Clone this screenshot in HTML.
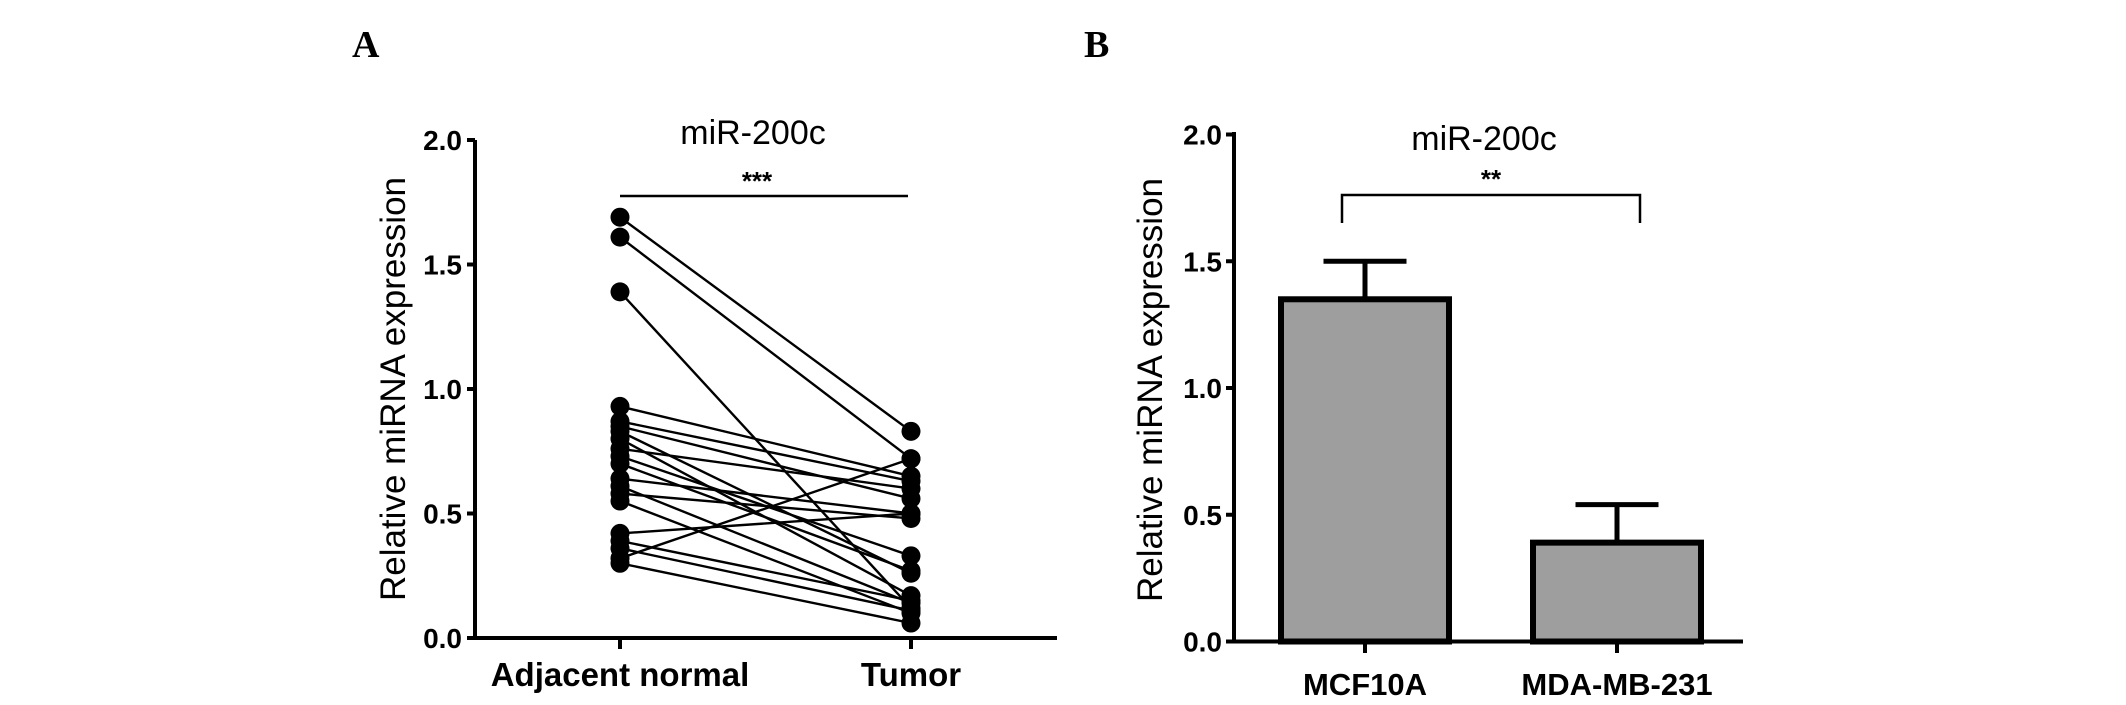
<!DOCTYPE html>
<html><head><meta charset="utf-8"><style>
html,body{margin:0;padding:0;background:#fff;}
svg{display:block;}
text{font-family:"Liberation Sans",Arial,sans-serif;}
</style></head><body>
<svg id="fig" width="2126" height="705" viewBox="0 0 2126 705" xmlns="http://www.w3.org/2000/svg">
<text x="352" y="57" font-weight="bold" font-size="38" style="font-family:'Liberation Serif',serif">A</text>
<text x="1084" y="57" font-weight="bold" font-size="38" style="font-family:'Liberation Serif',serif">B</text>
<g id="pa"></g>
<g id="pb"></g>
</svg>
<script>
// Panel A data
const aCategories = ["Adjacent normal", "Tumor"];
const aNormal = [1.69,1.61,1.39,0.93,0.87,0.85,0.83,0.80,0.76,0.73,0.70,0.64,0.61,0.58,0.55,0.42,0.39,0.36,0.32,0.30];
const aTumor  = [0.83,0.72,0.12,0.65,0.63,0.56,0.26,0.17,0.60,0.33,0.27,0.50,0.14,0.48,0.10,0.50,0.15,0.11,0.72,0.06];
const aTicks = ["0.0","0.5","1.0","1.5","2.0"];
// Panel B data
const bCategories = ["MCF10A", "MDA-MB-231"];
const bMeans = [1.35, 0.39];
const bErr = [0.15, 0.15];
const bTicks = ["0.0","0.5","1.0","1.5","2.0"];

const NS = "http://www.w3.org/2000/svg";
function mk(parent, tag, attrs, txt){
  const e = document.createElementNS(NS, tag);
  for (const k in attrs) e.setAttribute(k, attrs[k]);
  if (txt !== undefined) e.textContent = txt;
  parent.appendChild(e);
  return e;
}

// ---- Panel A ----
const pa = document.getElementById("pa");
const ayA = v => 638 - v * 249;
const axA = i => [620, 911][i];
let e;
e = mk(pa, "line", {x1:475,y1:140,x2:475,y2:638,stroke:"#000","stroke-width":4});


e = mk(pa, "line", {x1:473,y1:638,x2:1057,y2:638,stroke:"#000","stroke-width":4});


aTicks.forEach(t => {
  const y = ayA(parseFloat(t));
  mk(pa, "line", {x1:467,y1:y,x2:475,y2:y,stroke:"#000","stroke-width":4});
  e = mk(pa, "text", {x:462,y:y+10,"text-anchor":"end","font-size":28,"font-weight":"bold"}, t);
  
  
});
aCategories.forEach((c,i) => {
  mk(pa, "line", {x1:axA(i),y1:638,x2:axA(i),y2:649,stroke:"#000","stroke-width":4});
  e = mk(pa, "text", {x:axA(i),y:686,"text-anchor":"middle","font-size":33,"font-weight":"bold"}, c);
  
  
});
e = mk(pa, "text", {x:0,y:0,"text-anchor":"middle","font-size":35,transform:"translate(405,389) rotate(-90)"}, "Relative miRNA expression");


e = mk(pa, "text", {x:753,y:144,"text-anchor":"middle","font-size":34}, "miR-200c");


e = mk(pa, "line", {x1:620,y1:196,x2:908,y2:196,stroke:"#000","stroke-width":2.5});


e = mk(pa, "text", {x:757,y:190,"text-anchor":"middle","font-size":26,"font-weight":"bold"}, "***");


aNormal.forEach((v,i) => {
  e = mk(pa, "line", {x1:axA(0),y1:ayA(v),x2:axA(1),y2:ayA(aTumor[i]),stroke:"#000","stroke-width":2.4});
  
  
});
aNormal.forEach((v,i) => {
  e = mk(pa, "circle", {cx:axA(0),cy:ayA(v),r:9.5,fill:"#000"});
  
  
  e = mk(pa, "circle", {cx:axA(1),cy:ayA(aTumor[i]),r:9.5,fill:"#000"});
  
  
});

// ---- Panel B ----
const pb = document.getElementById("pb");
const ayB = v => 641.5 - v * 253.5;
const axB = i => [1365, 1617][i];
const barW = 168, capW = 83;
bMeans.forEach((v,i) => {
  const cx = axB(i), top = ayB(v + bErr[i]);
  e = mk(pb, "line", {x1:cx,y1:ayB(v),x2:cx,y2:top,stroke:"#000","stroke-width":5});
  
  
  e = mk(pb, "line", {x1:cx-capW/2,y1:top,x2:cx+capW/2,y2:top,stroke:"#000","stroke-width":5});
  
  
  e = mk(pb, "rect", {x:cx-barW/2,y:ayB(v),width:barW,height:641.5-ayB(v),fill:"#9e9e9e",stroke:"#000","stroke-width":6});
  
  
});
e = mk(pb, "line", {x1:1234,y1:132,x2:1234,y2:642,stroke:"#000","stroke-width":4});


e = mk(pb, "line", {x1:1232,y1:641.5,x2:1743,y2:641.5,stroke:"#000","stroke-width":4});


bTicks.forEach(t => {
  const y = ayB(parseFloat(t));
  mk(pb, "line", {x1:1226,y1:y,x2:1234,y2:y,stroke:"#000","stroke-width":4});
  e = mk(pb, "text", {x:1222,y:y+10,"text-anchor":"end","font-size":28,"font-weight":"bold"}, t);
  
  
});
bCategories.forEach((c,i) => {
  mk(pb, "line", {x1:axB(i),y1:641,x2:axB(i),y2:653,stroke:"#000","stroke-width":4});
  e = mk(pb, "text", {x:axB(i),y:695,"text-anchor":"middle","font-size":31,"font-weight":"bold"}, c);
  
  
});
e = mk(pb, "text", {x:0,y:0,"text-anchor":"middle","font-size":35,transform:"translate(1162,390) rotate(-90)"}, "Relative miRNA expression");


e = mk(pb, "text", {x:1484,y:150,"text-anchor":"middle","font-size":34}, "miR-200c");


e = mk(pb, "path", {d:"M1342 223 V195 H1640 V223",fill:"none",stroke:"#000","stroke-width":2.5});


e = mk(pb, "text", {x:1491,y:188,"text-anchor":"middle","font-size":26,"font-weight":"bold"}, "**");


</script>
</body></html>
